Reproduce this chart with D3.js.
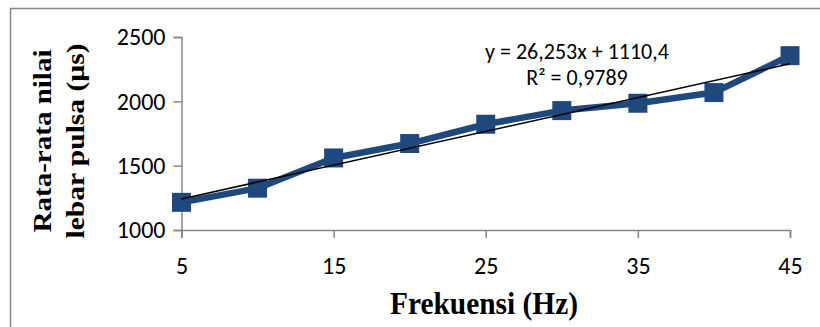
<!DOCTYPE html>
<html>
<head>
<meta charset="utf-8">
<script src="https://cdn.jsdelivr.net/npm/d3@7"></script>
<style>
  html, body { margin: 0; padding: 0; background: #fff; }
  svg { display: block; }
</style>
</head>
<body>
<svg id="chart" width="820" height="327"></svg>
<script>
const frequencies = [5, 10, 15, 20, 25, 30, 35, 40, 45];
const pulseWidth = [1215, 1325, 1560, 1672, 1822, 1928, 1985, 2068, 2355];
const xTicks = [5, 15, 25, 35, 45];
const yTicks = [1000, 1500, 2000, 2500];
const trendSlope = 26.253;
const trendIntercept = 1110.4;
const equationLines = ["y = 26,253x + 1110,4", "R² = 0,9789"];
const xTitle = "Frekuensi (Hz)";
const yTitleLines = ["Rata-rata nilai", "lebar pulsa (µs)"];

const svg = d3.select("#chart");
const grey = "#878787";
const blue = "#1F497D";
const tickFont = "Carlito, 'Open Sans', 'Liberation Sans', sans-serif";
const serif = "'Liberation Serif', 'Times New Roman', serif";

// outer border
svg.append("rect")
  .attr("x", 10.5).attr("y", 8.5)
  .attr("width", 840).attr("height", 340)
  .attr("fill", "none").attr("stroke", grey).attr("stroke-width", 1.5);

const x = d3.scaleLinear().domain([5, 45]).range([181.5, 790]);
const y = d3.scaleLinear().domain([1000, 2500]).range([230, 37]);

// axes
const yAxis = svg.append("g").attr("transform", "translate(181.5,0)")
  .call(d3.axisLeft(y).tickValues(yTicks).tickSize(8).tickPadding(8).tickFormat(d3.format("d")));
const xAxis = svg.append("g").attr("transform", "translate(0,230)")
  .call(d3.axisBottom(x).tickValues(xTicks).tickSize(8).tickPadding(19).tickFormat(d3.format("d")));

[yAxis, xAxis].forEach(g => {
  g.select(".domain").attr("stroke", grey).attr("stroke-width", 1.5);
  g.selectAll(".tick line").attr("stroke", grey).attr("stroke-width", 1.5);
  g.selectAll(".tick text").attr("fill", "#000")
    .style("font-family", tickFont).style("font-size", "24px");
});
yAxis.selectAll(".tick text").attr("dy", "0.33em");

// data line
const data = frequencies.map((f, i) => ({ f, v: pulseWidth[i] }));
svg.append("path")
  .datum(data)
  .attr("fill", "none")
  .attr("stroke", blue)
  .attr("stroke-width", 6.5)
  .attr("stroke-linejoin", "round")
  .attr("d", d3.line().x(d => x(d.f)).y(d => y(d.v)));

// markers
const ms = 19;
svg.append("g").selectAll("rect")
  .data(data).join("rect")
  .attr("x", d => x(d.f) - ms / 2)
  .attr("y", d => y(d.v) - ms / 2)
  .attr("width", ms).attr("height", ms)
  .attr("fill", blue);

// trend line
const xDom = x.domain();
svg.append("line")
  .attr("x1", x(xDom[0])).attr("y1", y(trendSlope * xDom[0] + trendIntercept))
  .attr("x2", x(xDom[1])).attr("y2", y(trendSlope * xDom[1] + trendIntercept))
  .attr("stroke", "#000").attr("stroke-width", 1.5);

// equation
svg.append("g").selectAll("text")
  .data(equationLines).join("text")
  .attr("x", 577)
  .attr("y", (d, i) => 59 + i * 26)
  .attr("text-anchor", "middle")
  .style("font-family", tickFont).style("font-size", "22px")
  .text(d => d);

// x title
svg.append("text")
  .attr("x", 484).attr("y", 314)
  .attr("text-anchor", "middle")
  .attr("textLength", 188).attr("lengthAdjust", "spacingAndGlyphs")
  .style("font-family", serif).style("font-size", "31px").style("font-weight", "bold")
  .text(xTitle);

// y title
const yTitleLen = [183, 195];
svg.append("g").selectAll("text")
  .data(yTitleLines).join("text")
  .attr("transform", (d, i) => `translate(${51 + i * 33},141) rotate(-90)`)
  .attr("text-anchor", "middle")
  .attr("textLength", (d, i) => yTitleLen[i]).attr("lengthAdjust", "spacingAndGlyphs")
  .style("font-family", serif).style("font-size", "25px").style("font-weight", "bold")
  .text(d => d);
</script>
</body>
</html>
